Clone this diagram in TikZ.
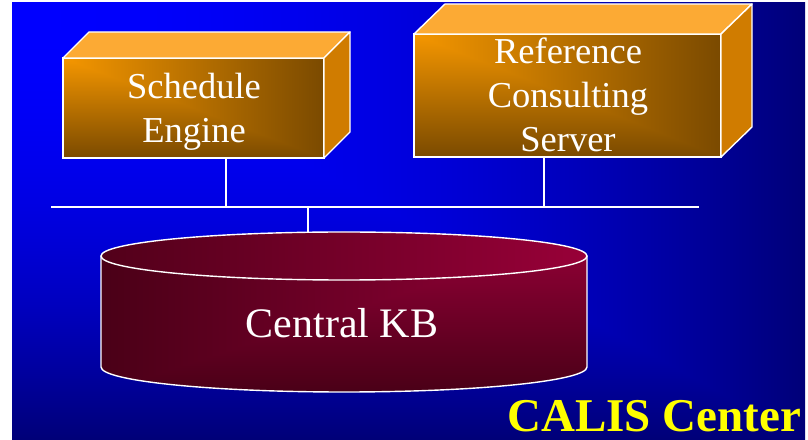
\documentclass[tikz,border=0pt]{standalone}
\usepackage{fontspec}
\setmainfont{Liberation Serif}
\definecolor{topface}{RGB}{252,170,52}
\definecolor{sideface}{RGB}{208,124,0}
\definecolor{ellL}{RGB}{82,0,26}
\definecolor{ellR}{RGB}{152,0,56}
\definecolor{calisyellow}{RGB}{255,255,0}
\pgfdeclarefunctionalshading{bgshade}{\pgfpoint{-50bp}{-50bp}}{\pgfpoint{50bp}{50bp}}{}{
 neg 25 add 50 div exch 25 add 50 div 2 copy lt {exch} if pop
 dup 0 lt {pop 0} if dup 1 gt {pop 1} if
 dup mul -0.53 mul 1 add 0 exch 0 exch
}
\pgfdeclarefunctionalshading{boxshade}{\pgfpoint{-50bp}{-50bp}}{\pgfpoint{50bp}{50bp}}{}{
 neg 25 add 50 div exch 25 add 50 div 2 copy lt {exch} if pop
 dup 0 lt {pop 0} if dup 1 gt {pop 1} if
 dup -0.48 mul 0.96 add exch -0.30 mul 0.59 add 0
}
\pgfdeclarefunctionalshading{cylshade}{\pgfpoint{-50bp}{-50bp}}{\pgfpoint{50bp}{50bp}}{}{
 neg 25 add 50 div exch neg 25 add 50 div 2 copy lt {exch} if pop
 dup 0 lt {pop 0} if dup 1 gt {pop 1} if
 dup -0.30 mul 0.59 add 0 3 -1 roll -0.13 mul 0.22 add
}
\begin{document}
\begin{tikzpicture}[x=1pt,y=1pt,
  wire/.style={draw=white,line width=1.4pt},
  edge/.style={draw=white,line width=1.4pt,line join=round},
  front/.style={shade,shading=boxshade,draw=white,line width=1.4pt,inner sep=0pt,outer sep=0pt,anchor=south west},
  lbl/.style={text=white,font=\fontsize{36.5}{44}\selectfont,align=center}]
\useasboundingbox (0,0) rectangle (808,439);
\fill[white] (0,0) rectangle (808,439);
\shade[shading=bgshade] (12,0) rectangle (805,436);

% Schedule Engine box
\node[front,minimum width=261pt,minimum height=100pt] (se) at (63,281) {};
\filldraw[fill=topface,edge] (se.north west) -- ++(26,26) -- ++(261,0) -- (se.north east) -- cycle;
\filldraw[fill=sideface,edge] (se.north east) -- ++(26,26) -- ++(0,-100) -- (se.south east) -- cycle;
\node[lbl] (setext) at (194,327) {Schedule\\Engine};

% Reference Consulting Server box
\node[front,minimum width=307pt,minimum height=123pt] (rc) at (414,282) {};
\filldraw[fill=topface,edge] (rc.north west) -- ++(31,30) -- ++(307,0) -- (rc.north east) -- cycle;
\filldraw[fill=sideface,edge] (rc.north east) -- ++(31,30) -- ++(0,-123) -- (rc.south east) -- cycle;
\node[lbl] (rctext) at (568,343.7) {Reference\\Consulting\\Server};

% Central KB cylinder
\shade[shading=cylshade] (101,183) -- (101,72) arc[start angle=180,end angle=360,x radius=243,y radius=25] -- (587,183) arc[start angle=0,end angle=180,x radius=243,y radius=24] -- cycle;
\draw[edge] (101,183) -- (101,72) arc[start angle=180,end angle=360,x radius=243,y radius=25] -- (587,183);
\shadedraw[left color=ellL,right color=ellR,draw=white,line width=1.4pt] (344,183) ellipse [x radius=243,y radius=24];
\node[text=white,font=\fontsize{42}{50}\selectfont] (kb) at (342,116.3) {Central KB};
\coordinate (kbtop) at (308,207);

% bus and connectors
\coordinate (busL) at (51,232);
\coordinate (busR) at (699,232);
\coordinate (j1) at (226,232);
\coordinate (j2) at (544,232);
\coordinate (j3) at (308,232);
\draw[wire] (busL) -- (busR);
\draw[wire] (j1 |- se.south) -- (j1);
\draw[wire] (j2 |- rc.south) -- (j2);
\draw[wire] (j3) -- (kbtop);

\node[font=\bfseries\fontsize{47}{52}\selectfont,text=calisyellow,anchor=base west,inner sep=0pt] (calis) at (507,7.5) {CALIS Center};
\end{tikzpicture}
\end{document}
